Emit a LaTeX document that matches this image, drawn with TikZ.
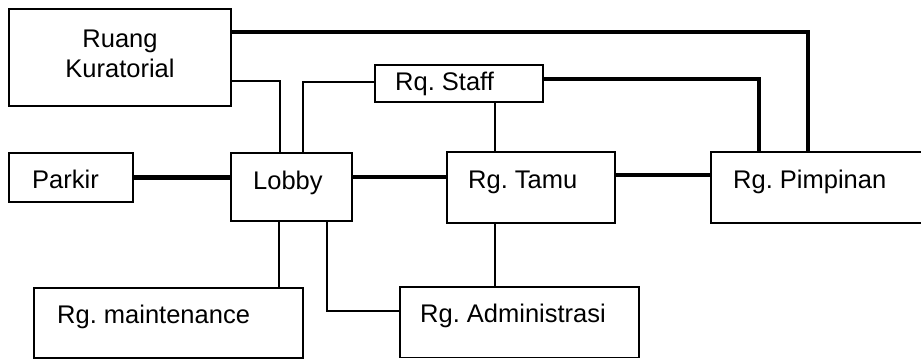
\documentclass[tikz,border=0pt]{standalone}
\usepackage{fontspec}
\setmainfont{Liberation Sans}
\frenchspacing
\begin{document}
\begin{tikzpicture}[x=1pt,y=-1pt,
  box/.style={draw, line width=1.2pt, rectangle, anchor=north west, inner sep=0pt, outer sep=0pt},
  lbl/.style={anchor=base west, inner sep=0pt, font=\fontsize{25.5}{30}\selectfont},
  thin/.style={line width=1.2pt},
  heavy/.style={line width=4.5pt}]
\useasboundingbox (0,0) rectangle (921,359);
\clip (0,0) rectangle (921,359);
% boxes
\node[box, minimum width=222pt, minimum height=97pt] (kur) at (9,9) {};
\node[box, minimum width=168pt, minimum height=37pt] (sta) at (375,65) {};
\node[box, minimum width=124pt, minimum height=49pt] (par) at (9,153) {};
\node[box, minimum width=121pt, minimum height=68pt] (lob) at (231,153) {};
\node[box, minimum width=168pt, minimum height=71pt] (tam) at (447,152) {};
\node[box, minimum width=225pt, minimum height=71pt] (pim) at (711,152) {};
\node[box, minimum width=269pt, minimum height=70pt] (mai) at (34,288) {};
\node[box, minimum width=239pt, minimum height=70.5pt] (adm) at (400,287) {};
% labels
\node[anchor=base, align=center, inner sep=0pt, font=\fontsize{25.5}{30}\selectfont] at (120,77) {Ruang\\Kuratorial};
\node[lbl] at ([xshift=20pt,yshift=-25pt]sta.north west) {Rq. Staff};
\node[lbl] at ([xshift=23pt,yshift=-35pt]par.north west) {Parkir};
\node[lbl] at ([xshift=22pt,yshift=-36pt]lob.north west) {Lobby};
\node[lbl] at ([xshift=21pt,yshift=-36pt]tam.north west) {Rg. Tamu};
\node[lbl] at ([xshift=22pt,yshift=-36pt]pim.north west) {Rg. Pimpinan};
\node[lbl] at ([xshift=23pt,yshift=-35pt]mai.north west) {Rg. maintenance};
\node[lbl] at ([xshift=20pt,yshift=-35pt]adm.north west) {Rg. Administrasi};
% heavy connectors
\draw[heavy] ([yshift=-23pt]kur.north east) -| ([xshift=97pt]pim.north west);
\draw[heavy] ([yshift=-14pt]sta.north east) -| ([xshift=48pt]pim.north west);
\draw[heavy] (par.east) -- (par.east -| lob.west);
\draw[heavy] ([yshift=-24pt]lob.north east) -- ([yshift=-24pt]lob.north east -| tam.west);
\draw[heavy] ([yshift=-23pt]tam.north east) -- ([yshift=-23pt]tam.north east -| pim.west);
% thin connectors
\draw[thin] ([yshift=25pt]kur.south east) -| ([xshift=49pt]lob.north west);
\draw[thin] ([xshift=72pt]lob.north west) |- ([yshift=-17pt]sta.north west);
\draw[thin] ([xshift=120pt]sta.south west) -- ([xshift=48pt]tam.north west);
\draw[thin] ([xshift=48pt]lob.south west) -- ([xshift=48pt]lob.south west |- mai.north);
\draw[thin] ([xshift=96pt]lob.south west) |- ([yshift=-24pt]adm.north west);
\draw[thin] ([xshift=48pt]tam.south west) -- ([xshift=48pt]tam.south west |- adm.north);
\end{tikzpicture}
\end{document}
